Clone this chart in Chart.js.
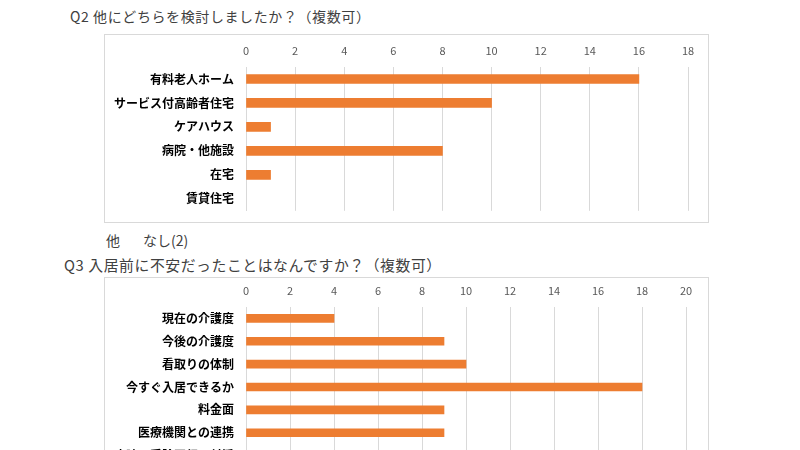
<!DOCTYPE html>
<html>
<head>
<meta charset="utf-8">
<script src="https://cdn.jsdelivr.net/npm/chart.js@4"></script>
<style>
  html, body { margin:0; padding:0; background:#fff; }
  body { width:800px; height:450px; position:relative; overflow:hidden; font-family:"Noto Sans CJK JP", sans-serif; color:#404040; }
  .title { position:absolute; font-size:14px; letter-spacing:0.6px; white-space:nowrap; line-height:1; }
  .box { position:absolute; border:1px solid #d9d9d9; box-sizing:border-box; background:#fff; }
  .box canvas { display:block; }
  .note { position:absolute; font-size:14px; white-space:nowrap; line-height:1; }
</style>
</head>
<body>
<div class="title" style="left:70px; top:9px;">Q2 他にどちらを検討しましたか？（複数可）</div>
<div class="box" style="left:104px; top:34px; width:605px; height:189px;">
  <canvas id="q2" width="603" height="187"></canvas>
</div>
<div class="note" style="left:106px; top:233px;">他</div>
<div class="note" style="left:143px; top:233px;">なし(2)</div>
<div class="title" style="left:64px; top:258px; font-size:14.8px;">Q3 入居前に不安だったことはなんですか？（複数可）</div>
<div class="box" style="left:104px; top:277px; width:605px; height:220px;">
  <canvas id="q3" width="603" height="218"></canvas>
</div>

<script>
// Q2 data
const q2Labels = ['有料老人ホーム', 'サービス付高齢者住宅', 'ケアハウス', '病院・他施設', '在宅', '賃貸住宅'];
const q2Values = [16, 10, 1, 8, 1, 0];
const q2Max = 18;

// Q3 data (last row is cut off in the picture)
const q3Labels = ['現在の介護度', '今後の介護度', '看取りの体制', '今すぐ入居できるか', '料金面', '医療機関との連携', '病院の受診同行・付添'];
const q3Values = [4, 9, 10, 18, 9, 9, 2];
const q3Max = 20;

const ORANGE = '#ED7D31';
const GRID = '#d9d9d9';
const FONT = '"Noto Sans CJK JP", sans-serif';

function makeBar(id, labels, values, max, opts) {
  new Chart(document.getElementById(id), {
    type: 'bar',
    data: {
      labels: labels,
      datasets: [{
        data: values,
        backgroundColor: values.map(v => v === 0 ? 'rgba(0,0,0,0)' : ORANGE),
        barThickness: opts.bar,
        borderWidth: 0
      }]
    },
    options: {
      indexAxis: 'y',
      responsive: false,
      animation: false,
      events: [],
      layout: { padding: { top: opts.padTop, right: opts.padRight, bottom: opts.padBottom, left: 0 } },
      plugins: { legend: { display: false }, tooltip: { enabled: false } },
      scales: {
        x: {
          position: 'top',
          min: 0, max: max,
          ticks: { stepSize: 2, color: '#595959', font: { family: FONT, size: 11 }, padding: 10 },
          grid: { color: GRID, drawTicks: false },
          border: { display: false },
          afterFit(s) { s.height = opts.axisH; }
        },
        y: {
          ticks: { color: '#000', font: { family: FONT, size: 12, weight: 'bold' }, padding: 4, autoSkip: false },
          grid: { display: false },
          border: { color: GRID },
          afterFit(s) { s.width = 141; }
        }
      }
    }
  });
}

makeBar('q2', q2Labels, q2Values, q2Max, { bar: 9, padTop: 8, padRight: 20, padBottom: 10, axisH: 24 });
makeBar('q3', q3Labels, q3Values, q3Max, { bar: 8, padTop: 5, padRight: 22, padBottom: 29, axisH: 24 });
</script>
</body>
</html>
